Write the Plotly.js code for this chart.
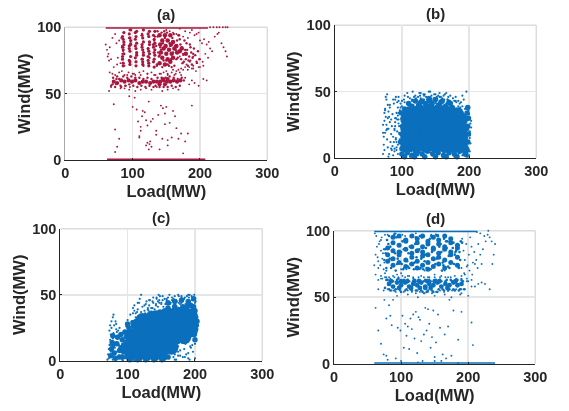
<!DOCTYPE html>
<html><head><meta charset="utf-8">
<script src="https://cdn.plot.ly/plotly-3.0.1.min.js"></script>
<style>html,body{margin:0;padding:0;background:#fff}#chart{filter:blur(0.35px)}</style></head>
<body><div id="chart" style="width:569px;height:411px"></div>
<script>
// Values estimated by eye from the reference; the densest regions are summarised by fewer, larger marks.
const panelNames = ["(a)","(b)","(c)","(d)"];
const xTicks = [0,100,200,300];
const yTicks = [0,50,100];

// Panel (a)
const aTopLoad = [60,212], aTopWind = [100,100];
const aBottomLoad = [62,208], aBottomWind = [0,0];
const aStripeLoad = [
 86,85,87,86,85,87,86,85,87,86,87,85,
 96,95,97,96,95,97,96,95,97,96,97,95,
 105,104,106,105,104,106,105,104,106,105,106,104,
 115,114,116,115,114,116,115,114,116,115,116,114,
 124,123,125,124,123,125,124,123,125,124,125,123,
 132,131,133,132,131,133,132,131,133,132,133,131];
const aStripeWind = [
 73,76,80,83,85,87,91,93,96,71,89,78,
 72,75,78,82,84,90,92,95,98,74,87,86,
 74,77,81,84,86,88,93,96,97,71,79,91,
 72,76,79,83,87,89,92,94,98,74,81,85,
 71,75,80,82,84,89,93,95,97,73,87,78,
 70,74,79,81,85,88,91,94,97,76,83,87];
const aBlobLoad = [140,148,156,144,152,160,142,150,158,166,146,154,162,170,141,149,157,165,144,152,160,148,156,140,173,179];
const aBlobWind = [73,72,74,77,76,77,81,80,80,81,84,83,84,82,87,86,87,86,90,90,89,94,94,94,84,80];
const aBandLoad = [72,77,83,88,94,99,104,110,115,120,126,131,136,141,146,151,156,161,166,171,140,148,152,145];
const aBandWind = [59,58,60,59,60,59,60,58,59,59,58,59,59,59,60,59,59,60,59,60,57,57,61,61];
const aFillLoad = [
 87,96,105,115,124,132,137,86,95,106,114,125,136,85,97,104,116,123,133,135,
 136,139,142,145,148,151,154,157,160,163,166,169,172,175,137,141,144,147,150,153,156,159,162,165,168,171,174,138,143,146,149,152,155,158,161,164,167,170,173,140,
 176,178,180,182,184,186,188,190,177,179,181,183,185,187,189,191,193,195,197,199,
 68,71,74,77,80,83,86,89,92,95,98,101,104,107,110,113,116,119,122,125,128,131,134,137,140,143,146,149,152,155,158,161,164,167,170,173,176,70,76,82];
const aFillWind = [
 96,72,74,76,73,90,97,85,92,80,95,77,71,80,88,96,71,84,93,86,
 72,78,83,88,92,96,71,76,81,86,90,94,76,80,93,85,70,97,75,90,86,92,71,76,94,87,73,81,96,75,85,72,88,70,95,83,77,91,85,79,
 74,83,88,71,78,85,72,80,90,76,83,75,87,81,77,84,79,74,82,76,
 56,62,55,63,61,55,63,56,62,57,63,56,62,55,62,56,61,55,62,56,61,55,56,62,55,62,55,62,55,63,56,62,55,61,56,62,60,57,61,56];
const aSparseLoad = [
 60,62,63,65,66,64,70,72,68,76,80,84,78,86,82,74,88,95,77,83,
 150,155,160,165,170,175,178,182,185,188,192,195,198,200,203,206,210,213,215,218,
 222,226,228,232,235,238,240,186,190,196,200,204,208,212,175,180,185,190,195,170,
 178,184,190,198,205,175,182,188,194,200,172,168,165,160,150,
 66,70,74,80,84,88,94,100,104,110,116,122,128,134,140,146,152,158,164,170,
 65,68,75,82,90,95,178,184,188,192,198,205,210,88,96,104,112,120,128,136,
 144,152,160,168,92,102,112,122,132,142,152,162,172,
 72,74,77,80,95,100,103,106,108,110,112,114,118,120,122,124,125,127,130,135,
 138,142,145,148,150,152,155,158,160,163,165,168,172,175,178,182,188,
 120,122,124,126,128,110,112,115,140,144,148,152,135,74,
 215,220,225,229,234,238,241];
const aSparseWind = [
 87,83,78,75,85,80,92,70,76,88,90,86,77,82,73,95,71,98,72,92,
 98,97,96,95,99,93,97,92,96,98,94,95,96,90,88,91,87,89,84,82,
 93,95,96,88,85,82,78,75,78,73,76,74,80,77,79,72,74,71,73,78,
 70,70,69,70,71,68,68,69,67,70,69,68,67,68,67,
 66,65,64,66,67,64,66,65,64,66,67,65,66,64,65,66,64,66,65,66,
 52,55,57,54,56,53,62,57,60,58,56,61,60,54,55,52,53,54,53,55,
 52,53,54,53,64,65,64,65,64,65,65,64,64,
 42,23,10,16,48,40,47,38,29,17,22,33,36,30,26,44,12,29,31,22,
 34,41,39,35,40,11,28,17,37,33,24,16,20,5,14,20,41,
 11,13,8,14,10,18,25,37,8,16,27,15,19,6,
 100,100,100,100,100,100,100];

// Panel (b)
const bCoreLoad = [108,122,136,150,164,178,188, 108,122,136,150,164,178,188, 108,122,136,150,164,178,188, 108,122,136,150,164,178,188, 112,126,140,154,168,182];
const bCoreWind = [9,9,9,9,9,9,9, 15,15,15,15,15,15,15, 22,22,22,22,22,22,22, 29,29,29,29,29,29,29, 34,35,36,35,34,33];
const bMidLoad = [98,100,101,102,99,100,197,198,199,198,199,197,195,198,115,125,135,145,155,165,175,185,120,130,140,150,160,170,110,128,142,158,172,104,196,
 100,108,115,122,130,138,146,154,162,170,178,186,194,104,119,134,150,166,182];
const bMidWind = [12,18,24,30,34,7,6,12,18,24,30,34,3,38,39,40,41,41,40,39,38,36,43,43,44,44,43,42,41,42,43,42,41,37,22,
 3,4,2,4,3,5,3,4,2,4,3,5,3,1,1,1,1,1,1];
const bSpeckLoad = [
 72,74,76,78,80,82,84,86,88,90,92,94,96,73,75,77,79,81,83,85,87,89,91,93,95,73,75,78,80,82,85,87,90,92,95,
 72,74,77,79,81,84,87,89,91,94,76,78,80,75,77,79,74,72,82,84,
 90,95,100,104,108,112,116,120,124,128,132,136,140,144,148,152,156,160,164,168,172,176,180,184,188,192,196,
 98,104,110,115,122,128,133,139,144,150,156,162,168,174,180,186,190,194,118,126,134,142,150,158,166,190,
 100,106,112,118,124,130,136,142,148,154,160,166,172,178,184,190,196,102,114,126,138,150,162,174,186,198,
 198,200,201,202,200,201,203,199,201,202,203,200,201,197,200,
 91,93,95,97,89,92,94,96,98,90,92,94,96,88,91,93,95,97,86,89,
 100,103,106,109,112,115,118,121,124,127,130,133,136,139,142,145,148,151,154,157,160,163,166,169,172,175,178,181,184,187];
const bSpeckWind = [
 25,28,31,22,35,27,18,33,41,24,12,38,19,16,19,44,40,31,12,24,44,7,14,29,34,10,36,14,22,38,6,16,30,8,43,
 3,6,21,8,3,7,2,5,46,3,46,48,1,37,25,30,34,19,40,29,
 44,46,43,47,49,45,50,47,46,49,48,46,50,47,48,46,49,45,48,44,47,45,46,43,42,44,50,
 41,42,41,44,43,45,47,46,45,42,46,47,44,42,43,41,39,37,46,49,48,50,48,46,49,47,
 2,3,1,4,2,3,1,4,2,3,1,2,4,1,3,2,1,5,5,4,5,5,4,5,4,1,
 8,13,20,26,31,17,23,36,5,11,28,2,15,38,33,
 30,20,26,14,22,34,10,18,38,27,6,32,24,12,15,42,29,36,9,21,
 39,44,37,46,40,43,38,45,41,47,39,44,42,38,46,40,45,41,47,43,39,44,41,46,40,38,43,42,39,38];

// Panel (c)
const cCoreLoad = [105,105,105,115,115,115,115,128,128,128,128,142,142,142,142,142,156,156,156,156,150,170,170,170,170,165,184,184,184,184,194,194,194,135,122];
const cCoreWind = [6,12,19,7,14,21,27,7,14,21,28,7,14,21,28,33,14,21,28,34,7,17,24,30,35,10,18,24,30,35,23,29,34,32,31];
const cMidLoad = [75,76,77,78,88,90,92,94,96,98,100,102,108,115,120,125,132,135,160,170,176,182,186,190,194,198,200,201,202,199,201,200,203,160,170,180,190,198,
 80,84,90,94,85,88,78,82,96,92,148,155,162,168,175,182,190,196,
 100,106,112,118,124,130,136,142,148,154,160,103,115,127,139,151];
const cMidWind = [4,9,14,19,3,10,16,7,22,14,28,25,29,30,31,33,35,36,40,41,39,41,40,42,42,41,38,33,27,20,24,16,30,44,45,46,45,47,
 6,13,20,12,18,8,12,2,9,3,37,38,38,38,38,38,38,38,
 3,2,3,2,3,2,3,2,3,2,3,1,1,1,1,1];
const cSpeckLoad = [
 70,71,72,73,74,75,72,73,75,76,77,78,79,80,81,82,83,84,85,86,87,88,80,82,84,76,78,86,90,92,74,79,83,
 95,98,100,102,104,106,108,110,112,114,108,110,112,115,117,120,122,125,127,130,132,135,137,140,142,145,147,150,
 128,133,138,143,148,152,156,160,164,168,172,176,180,184,188,192,196,200,150,155,160,165,170,175,180,185,190,195,
 115,118,120,125,130,132,138,143,146,152,158,162,166,170,175,180,185,190,195,199,
 130,138,146,152,158,170,175,178,182,186,190,194,197,200,172,178,184,190,196,168,175,181,187,193,
 78,80,84,87,92,96,120,128,135,140,155,162,170,175,185,192,200,82,93,100,110,
 142,147,153,158,163,168,173,178,183,188,193,198,145,150,155,161,166,171,176,181,186,191,196,201,
 126,131,137,141,118,123,129,134];
const cSpeckWind = [
 1,5,9,12,16,20,2,23,7,25,3,17,21,5,10,14,24,7,19,2,12,25,27,30,22,30,33,23,9,4,27,35,28,
 18,26,31,20,35,30,36,38,33,37,40,42,36,39,44,37,41,38,43,39,42,40,45,39,43,41,46,44,
 45,46,48,47,49,46,43,48,44,47,46,49,48,47,49,50,46,44,38,37,39,38,43,37,44,38,43,39,
 44,47,50,42,40,46,44,48,50,49,47,50,48,49,50,49,48,50,49,50,
 2,1,3,2,4,5,11,8,3,13,6,10,7,13,1,4,9,2,12,3,7,14,5,11,
 1,3,2,4,1,2,1,3,2,1,3,2,1,4,3,1,2,0.5,0.5,0.5,0.5,
 42,44,41,46,43,42,45,43,47,41,44,42,45,43,47,41,46,42,44,47,43,48,41,45,
 36,38,40,37,34,33,35,36];

// Panel (d)
const dTopLoad = [60,213], dTopWind = [100,100];
const dBottomLoad = [60,240], dBottomWind = [0,0];
const dCoreLoad = [
 80,88,97,107,116,124,132,140,148,156,165,174,184,
 80,88,97,107,116,124,132,140,148,156,165,174,184,
 80,88,97,107,116,124,132,140,148,156,165,174,184,
 88,97,107,116,124,132,140,148,156,165,174,184,
 88,97,107,116,124,132,140,148,156,165,174];
const dCoreWind = [
 77,74,76,73,75,72,74,71,73,75,72,76,74,
 82,79,82,78,80,77,81,76,79,80,78,82,80,
 87,85,84,86,83,85,84,82,86,83,86,84,87,
 91,89,92,88,91,88,90,87,90,88,91,89,
 95,96,93,96,94,96,92,95,93,96,94];
const dBandLoad = [82,88,94,100,106,112,118,124,130,136,142,148,154,160,166,172,178,184,190,128,136,144,120,150,100,85,97,109,115,127,139,157,169,181];
const dBandWind = [60,58,61,59,61,58,60,59,61,58,60,59,61,58,60,59,61,59,60,57,57,57,62,62,62,62,57,62,57,62,62,62,57,62];
const dFillLoad = [
 78,84,92,102,112,120,128,136,144,152,160,170,178,188,76,83,93,103,111,121,129,137,145,153,161,169,179,187,
 79,85,91,101,113,119,127,135,143,151,159,171,177,189,75,82,94,104,110,122,130,138,146,154,162,168,180,186,
 81,86,90,100,109,123,131,139,147,155,163,167,181,185,77,87,95,105,114,125,133,141,149,157,164,172,182,191,
 76,80,84,88,92,96,100,104,108,112,116,120,124,128,132,136,140,144,148,152,156,160,164,168,172,176,180,184,188,192,
 78,82,86,90,94,98,102,106,110,114,118,122,126,130,134,138,142,146,150,154,158,162,166,170,174,178,182,186,190,194];
const dFillWind = [
 72,88,70,92,72,76,96,82,71,97,84,73,91,78,86,79,95,71,83,90,72,87,96,79,70,92,75,84,
 93,72,83,75,88,71,86,77,94,75,90,81,87,92,78,96,75,86,73,95,79,72,84,96,76,87,82,72,
 90,78,97,84,77,80,95,71,86,96,74,92,84,73,83,95,79,93,75,85,71,91,78,88,94,72,85,91,
 57,63,55,62,56,64,54,63,56,62,55,63,55,62,54,63,55,62,54,63,56,62,55,63,56,62,55,63,56,62,
 63,56,62,55,63,56,62,55,63,56,62,55,63,55,62,54,63,55,62,54,63,56,62,55,63,56,62,55,63,56];
const dSpeckLoad = [
 60,62,64,66,68,70,72,74,63,65,67,69,71,73,75,61,66,70,74,76,78,
 102,104,106,108,118,122,128,90,78,80,88,92,100,135,145,155,165,
 191,193,195,197,199,201,203,205,207,209,212,215,218,220,190,194,198,202,206,210,214,222,226,
 230,232,235,238,240,236,229,224,218,213,
 62,70,76,82,88,94,100,106,112,118,70,76,130,140,150,160,170,180,190,195,
 200,205,210,215,220,225,232,195,190,198,205,
 66,74,80,86,92,98,104,110,116,122,128,134,140,146,152,158,164,170,176,182,188,
 66,72,78,84,90,96,102,110,118,126,134,142,150,158,166,174,182,190,198,
 62,66,70,74,78,82,88,94,110,125,135,150,165,175,190,200,
 75,78,80,84,86,92,95,99,102,104,106,108,110,112,114,116,118,120,122,124,126,128,130,132,
 134,136,138,140,142,144,146,148,150,152,155,158,160,162,165,167,170,172,175,178,185,188,190,205,207,
 100,125,150,185];
const dSpeckWind = [
 74,82,88,77,92,85,79,71,96,80,90,74,95,83,76,98,72,93,86,97,70,
 97,72,96,71,97,98,71,98,70,97,96,98,71,70,97,97,70,
 94,85,78,90,74,82,95,88,76,84,78,90,82,75,72,68,73,70,67,75,72,86,92,
 100,95,92,82,90,75,97,96,98,99,
 67,66,68,65,66,67,68,65,66,64,64,65,66,65,67,66,65,66,66,67,
 62,63,58,60,61,60,56,56,56,64,58,
 56,55,56,55,54,55,54,55,54,53,54,53,54,53,54,55,54,55,55,56,56,
 63,64,65,64,65,65,66,66,65,65,65,65,65,65,65,65,64,64,62,
 42,25,15,7,34,44,48,51,52,50,53,51,52,50,53,51,
 48,6,3,36,29,4,27,25,36,12,30,21,28,11,34,26,37,19,39,8,35,33,17,2,
 22,42,25,41,30,12,20,40,5,16,37,27,2,7,22,4,28,48,6,40,18,52,39,31,14,
 2,1,2,0.5];

const crimson = "#a8173f", blue = "#0a70bd";
const cell = [
  {ax:"", l:65.3, r:267.3, t:27.3, b:160,  tx:166, ty:15, yLine:"#a8a8a8"},
  {ax:"2",l:334.7,r:536.3, t:25.3, b:158,  tx:435, ty:14, yLine:"#262626"},
  {ax:"3",l:60.3, r:262.3, t:228.7,b:361,  tx:161, ty:217,yLine:"#262626"},
  {ax:"4",l:334,  r:535.3, t:230.7,b:363.7,tx:435, ty:218,yLine:"#262626"}
];
const W = 569, H = 411;
function pts(x,y,size,color,ax){
  return {type:"scatter",mode:"markers",x,y,xaxis:"x"+ax,yaxis:"y"+ax,cliponaxis:false,
    marker:{size,color,line:{width:0}},hoverinfo:"skip",showlegend:false};
}
function rail(x,y,color,ax){
  return {type:"scatter",mode:"lines",x,y,xaxis:"x"+ax,yaxis:"y"+ax,cliponaxis:false,
    line:{color,width:3},hoverinfo:"skip",showlegend:false};
}
const traces = [
  pts(aSparseLoad,aSparseWind,1.9,crimson,""),
  pts(aFillLoad,aFillWind,2.4,crimson,""),
  pts(aStripeLoad,aStripeWind,3.2,crimson,""),
  pts(aBlobLoad,aBlobWind,4.5,crimson,""),
  pts(aBandLoad,aBandWind,4.2,crimson,""),
  rail(aTopLoad,aTopWind,crimson,""), rail(aBottomLoad,aBottomWind,crimson,""),
  pts(bCoreLoad,bCoreWind,14,blue,"2"),
  pts(bMidLoad,bMidWind,5.5,blue,"2"),
  pts(bSpeckLoad,bSpeckWind,2.2,blue,"2"),
  pts(cCoreLoad,cCoreWind,14,blue,"3"),
  pts(cMidLoad,cMidWind,5.5,blue,"3"),
  pts(cSpeckLoad,cSpeckWind,2.2,blue,"3"),
  pts(dSpeckLoad,dSpeckWind,1.9,blue,"4"),
  pts(dFillLoad,dFillWind,2.6,blue,"4"),
  pts(dCoreLoad,dCoreWind,5,blue,"4"),
  pts(dBandLoad,dBandWind,4.8,blue,"4"),
  rail(dTopLoad,dTopWind,blue,"4"), rail(dBottomLoad,dBottomWind,blue,"4")
];
const family = "Liberation Sans, Arial, sans-serif", ink = "#262626";
const layout = {width:W,height:H,margin:{l:0,r:0,t:0,b:0},paper_bgcolor:"#fff",plot_bgcolor:"#fff",
  font:{family,color:ink,size:15},showlegend:false,annotations:[],shapes:[]};
cell.forEach((c,i)=>{
  const tickfont = {family,size:14.5,color:ink,weight:"bold"};
  const titlefont = {family,size:16.5,color:ink,weight:"bold"};
  layout["xaxis"+c.ax] = {domain:[c.l/W,c.r/W],range:[0,300],tickvals:xTicks,tickfont,
    title:{text:"Load(MW)",font:titlefont,standoff:5},
    anchor:"y"+c.ax,showline:true,linecolor:ink,linewidth:1,gridcolor:"#e6e6e6",gridwidth:1.5,
    zeroline:false,ticks:"inside",ticklen:2,tickcolor:ink,automargin:false};
  layout["yaxis"+c.ax] = {domain:[1-c.b/H,1-c.t/H],range:[0,100],tickvals:yTicks,tickfont,
    title:{text:"Wind(MW)",font:titlefont,standoff:2},
    anchor:"x"+c.ax,showline:true,linecolor:c.yLine,linewidth:1,gridcolor:"#e6e6e6",gridwidth:1.5,
    zeroline:false,ticks:"inside",ticklen:2,tickcolor:ink,automargin:false};
  layout.annotations.push({text:"<b>"+panelNames[i]+"</b>",x:c.tx/W,y:1-c.ty/H,xref:"paper",yref:"paper",
    xanchor:"center",yanchor:"middle",showarrow:false,font:{family,size:15,color:ink}});
  const xr = "x"+c.ax+" domain", yr = "y"+c.ax+" domain", frame = {color:"#dcdcdc",width:1.5};
  layout.shapes.push({type:"line",xref:xr,yref:yr,x0:0,x1:1,y0:1,y1:1,line:frame,layer:"below"});
  layout.shapes.push({type:"line",xref:xr,yref:yr,x0:1,x1:1,y0:0,y1:1,line:frame,layer:"below"});
});
Plotly.newPlot("chart",traces,layout,{staticPlot:true,displayModeBar:false});
</script></body></html>
